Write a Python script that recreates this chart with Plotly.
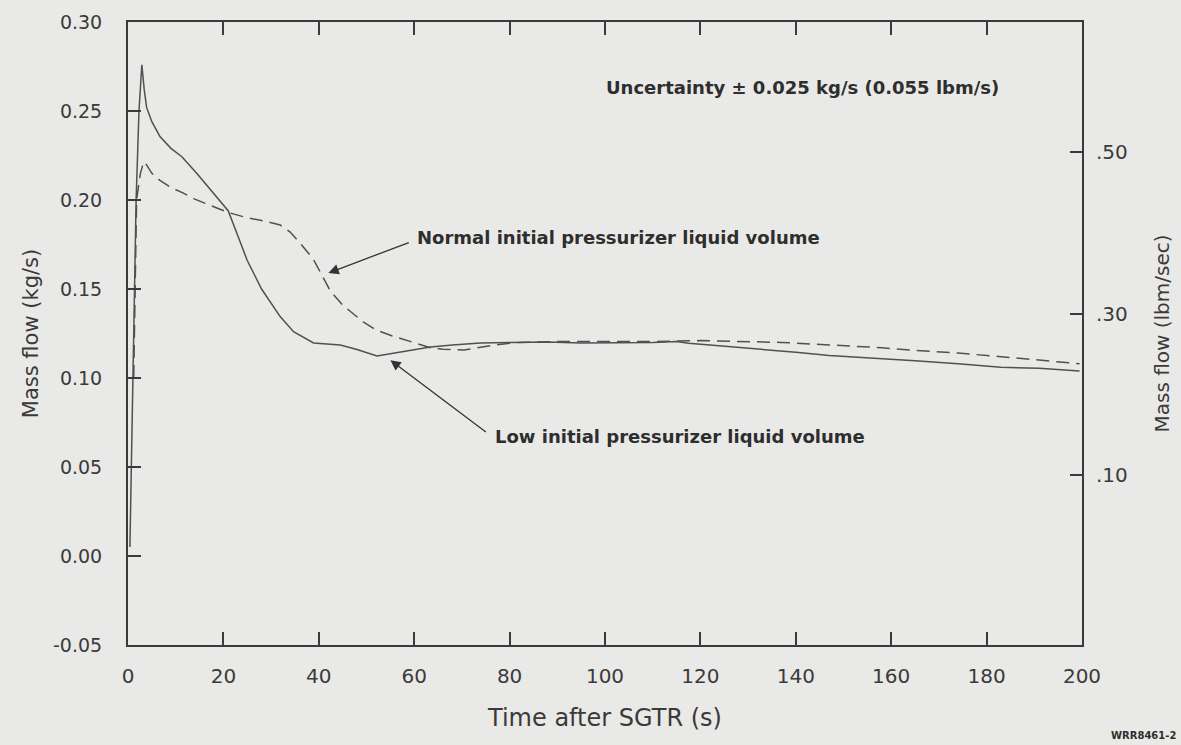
import plotly.graph_objects as go

KG_TO_LBM = 2.20462

# Low initial pressurizer liquid volume (solid)
t_low = [0.4, 1.0, 1.7, 2.3, 2.9, 3.4, 3.9, 5.0, 6.7, 9.0, 11.3, 14.4, 17.5, 21, 23, 25, 28,
         31.9, 34.7, 38.9, 44.5, 48, 52.2, 56, 59.9, 63.4, 68, 73.9, 80, 87.9, 94.9, 100,
         105, 110, 115, 117.5, 122, 127, 133, 140, 147, 155, 165, 174, 183, 191, 199.5]
m_low = [0.005, 0.09, 0.20, 0.250, 0.276, 0.262, 0.252, 0.244, 0.2356, 0.229, 0.2243, 0.215,
         0.205, 0.194, 0.180, 0.166, 0.150, 0.1345, 0.126, 0.1197, 0.1185, 0.116, 0.1124,
         0.114, 0.1157, 0.1174, 0.1185, 0.1197, 0.1200, 0.1202, 0.1197, 0.1198, 0.1195,
         0.1200, 0.1205, 0.1195, 0.1185, 0.1175, 0.1163, 0.1145, 0.1126, 0.1115, 0.1097,
         0.1080, 0.1060, 0.1055, 0.1040]

# Normal initial pressurizer liquid volume (dashed)
t_norm = [1.2, 1.8, 2.6, 3.3, 3.9, 5.0, 6.7, 9.0, 11.5, 14, 17.2, 21, 25, 28, 31.9, 34, 36,
          38.8, 42.4, 45, 49.3, 52, 55, 59.9, 63.4, 66, 70.4, 76.7, 82, 90, 100, 110, 120,
          130, 137, 144, 151, 158, 165, 174, 183, 191, 199.5]
m_norm = [0.10, 0.20, 0.215, 0.2215, 0.2197, 0.215, 0.211, 0.207, 0.204, 0.2005, 0.197,
          0.193, 0.190, 0.1885, 0.186, 0.182, 0.176, 0.167, 0.149, 0.141, 0.1315, 0.127,
          0.124, 0.1197, 0.117, 0.1162, 0.1157, 0.1185, 0.120, 0.1205, 0.1205, 0.1205,
          0.121, 0.1205, 0.120, 0.119, 0.118, 0.117, 0.1155, 0.114, 0.112, 0.110, 0.108]

x_ticks = [0, 20, 40, 60, 80, 100, 120, 140, 160, 180, 200]
y_ticks = [-0.05, 0.00, 0.05, 0.10, 0.15, 0.20, 0.25, 0.30]
y_tick_text = ["-0.05", "0.00", "0.05", "0.10", "0.15", "0.20", "0.25", "0.30"]
y2_ticks = [0.10, 0.30, 0.50]
y2_tick_text = [".10", ".30", ".50"]

BG = "#e9e9e7"
INK = "#3a3a3a"
LINE = "#505050"
FONT = "DejaVu Sans, Liberation Sans, Arial, sans-serif"

fig = go.Figure()
fig.add_trace(go.Scatter(x=t_norm, y=m_norm, mode="lines",
                         line=dict(color=LINE, width=1.5, dash="13px,7px"),
                         hoverinfo="skip", showlegend=False))
fig.add_trace(go.Scatter(x=t_low, y=m_low, mode="lines",
                         line=dict(color=LINE, width=1.5),
                         hoverinfo="skip", showlegend=False))
# same data on the lbm/s axis (invisible) so the right axis is drawn
fig.add_trace(go.Scatter(x=t_low, y=[v * KG_TO_LBM for v in m_low], mode="lines",
                         line=dict(color="rgba(0,0,0,0)", width=0), yaxis="y2",
                         hoverinfo="skip", showlegend=False))

fig.update_layout(
    width=1181, height=745,
    margin=dict(l=128, r=99, t=22, b=100),
    paper_bgcolor=BG, plot_bgcolor=BG,
    font=dict(family=FONT, color=INK, size=19),
    xaxis=dict(range=[0, 200], tickvals=x_ticks, ticks="inside", ticklen=13, tickwidth=1.5,
               tickcolor=INK, showline=True, linecolor=INK, linewidth=2, mirror="ticks",
               showgrid=False, zeroline=False, ticklabelstandoff=12,
               tickfont=dict(size=20),
               title=dict(text="Time after SGTR (s)", font=dict(size=24), standoff=22)),
    yaxis=dict(range=[-0.05, 0.30], tickvals=y_ticks, ticktext=y_tick_text, ticks="inside",
               ticklen=13, tickwidth=1.5, tickcolor=INK, showline=True, linecolor=INK,
               linewidth=2, showgrid=False, zeroline=False, ticklabelstandoff=20,
               tickfont=dict(size=19),
               title=dict(text="Mass flow (kg/s)", font=dict(size=21), standoff=9)),
    yaxis2=dict(range=[-0.05 * KG_TO_LBM, 0.30 * KG_TO_LBM], overlaying="y", side="right",
                tickvals=y2_ticks, ticktext=y2_tick_text, ticks="inside", ticklen=12,
                tickwidth=1.5, tickcolor=INK, showline=True, linecolor=INK, linewidth=2,
                showgrid=False, zeroline=False, ticklabelstandoff=8,
                tickfont=dict(size=20),
                title=dict(text="Mass flow (lbm/sec)", font=dict(size=20), standoff=28)),
)

ann_font = dict(family=FONT, size=18, color="#2e2e2e")
fig.add_annotation(x=42.0, y=0.159, ax=82, ay=-31, text="", showarrow=True,
                   arrowhead=2, arrowsize=1.6, arrowwidth=1.3, arrowcolor="#333")
fig.add_annotation(x=60.2, y=0.1787, text="<b>Normal initial pressurizer liquid volume</b>",
                   showarrow=False, xanchor="left", yanchor="middle", font=ann_font)
fig.add_annotation(x=55.0, y=0.110, ax=97, ay=73, text="", showarrow=True,
                   arrowhead=2, arrowsize=1.6, arrowwidth=1.3, arrowcolor="#333")
fig.add_annotation(x=76.6, y=0.0669, text="<b>Low initial pressurizer liquid volume</b>",
                   showarrow=False, xanchor="left", yanchor="middle", font=ann_font)
fig.add_annotation(x=99.7, y=0.263, text="<b>Uncertainty ± 0.025 kg/s (0.055 lbm/s)</b>",
                   showarrow=False, xanchor="left", yanchor="middle", font=ann_font)
fig.add_annotation(xref="paper", yref="paper", x=1.101, y=-0.1445, text="<b>WRR8461-2</b>",
                   showarrow=False, xanchor="right", yanchor="middle",
                   font=dict(family=FONT, size=10, color="#2e2e2e"))

fig.write_html("out.html")
